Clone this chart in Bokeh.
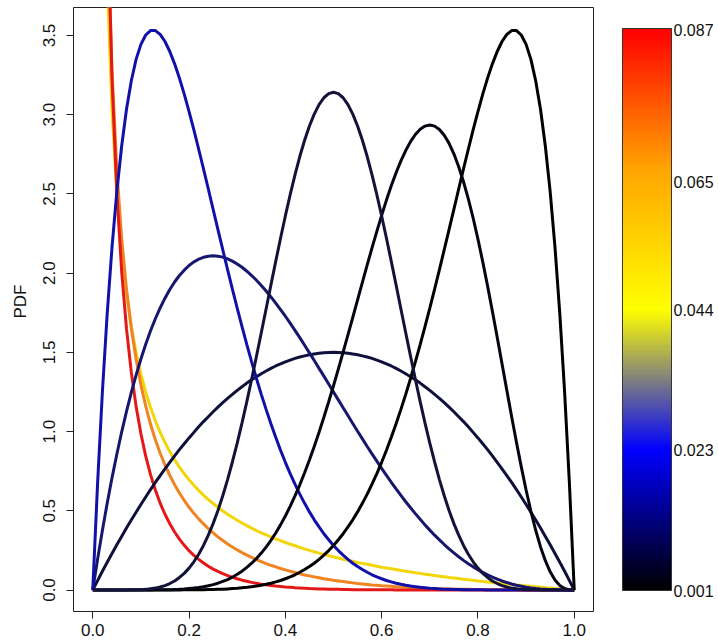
import math
import numpy as np
from bokeh.plotting import figure
from bokeh.layouts import row
from bokeh.models import Range1d, FixedTicker, LinearColorMapper
from bokeh.core.properties import value
from bokeh.embed import file_html
from bokeh.resources import INLINE

x_grid = [i / 100 for i in range(101)]          # 0.00 .. 1.00
x_open = x_grid[1:]                              # 0.01 .. 1.00 (density is infinite at 0)

pdf_a02_b2 = [9.459, 5.378, 3.848, 3.026, 2.505, 2.142, 1.873, 1.665, 1.499, 1.363, 1.249, 1.152, 1.068, 0.995, 0.931,
              0.873, 0.822, 0.776, 0.734, 0.696, 0.661, 0.629, 0.599, 0.571, 0.546, 0.522, 0.499, 0.478, 0.459, 0.440,
              0.423, 0.406, 0.390, 0.375, 0.361, 0.348, 0.335, 0.323, 0.311, 0.300, 0.289, 0.279, 0.269, 0.259, 0.250,
              0.241, 0.233, 0.225, 0.217, 0.209, 0.202, 0.194, 0.187, 0.181, 0.174, 0.168, 0.162, 0.156, 0.150, 0.144,
              0.139, 0.134, 0.129, 0.123, 0.119, 0.114, 0.109, 0.105, 0.100, 0.096, 0.092, 0.087, 0.083, 0.079, 0.076,
              0.072, 0.068, 0.064, 0.061, 0.057, 0.054, 0.051, 0.047, 0.044, 0.041, 0.038, 0.035, 0.032, 0.029, 0.026,
              0.023, 0.021, 0.018, 0.015, 0.013, 0.010, 0.007, 0.005, 0.002, 0.000]
pdf_a02_b4 = [10.878, 6.060, 4.249, 3.272, 2.652, 2.221, 1.901, 1.654, 1.457, 1.295, 1.161, 1.046, 0.948, 0.863, 0.789,
              0.723, 0.665, 0.612, 0.565, 0.522, 0.484, 0.449, 0.417, 0.387, 0.360, 0.335, 0.312, 0.291, 0.271, 0.253,
              0.236, 0.220, 0.206, 0.192, 0.179, 0.167, 0.156, 0.146, 0.136, 0.127, 0.118, 0.110, 0.102, 0.095, 0.089,
              0.083, 0.077, 0.071, 0.066, 0.061, 0.057, 0.053, 0.049, 0.045, 0.041, 0.038, 0.035, 0.032, 0.030, 0.027,
              0.025, 0.023, 0.021, 0.019, 0.017, 0.015, 0.014, 0.013, 0.011, 0.010, 0.009, 0.008, 0.007, 0.006, 0.006,
              0.005, 0.004, 0.004, 0.003, 0.003, 0.002, 0.002, 0.002, 0.001, 0.001, 0.001, 0.001, 0.001, 0.000, 0.000,
              0.000, 0.000, 0.000, 0.000, 0.000, 0.000, 0.000, 0.000, 0.000, 0.000]
pdf_a02_b8 = [12.128, 6.488, 4.366, 3.225, 2.507, 2.012, 1.651, 1.375, 1.159, 0.986, 0.845, 0.728, 0.631, 0.548, 0.478,
              0.418, 0.366, 0.321, 0.282, 0.248, 0.219, 0.193, 0.170, 0.150, 0.132, 0.117, 0.103, 0.091, 0.080, 0.071,
              0.062, 0.055, 0.048, 0.042, 0.037, 0.033, 0.029, 0.025, 0.022, 0.019, 0.017, 0.014, 0.013, 0.011, 0.009,
              0.008, 0.007, 0.006, 0.005, 0.004, 0.004, 0.003, 0.003, 0.002, 0.002, 0.002, 0.001, 0.001, 0.001, 0.001,
              0.001, 0.001, 0.000, 0.000, 0.000, 0.000, 0.000, 0.000, 0.000, 0.000, 0.000, 0.000, 0.000, 0.000, 0.000,
              0.000, 0.000, 0.000, 0.000, 0.000, 0.000, 0.000, 0.000, 0.000, 0.000, 0.000, 0.000, 0.000, 0.000, 0.000,
              0.000, 0.000, 0.000, 0.000, 0.000, 0.000, 0.000, 0.000, 0.000, 0.000]
pdf_a2_b2 = [0.000, 0.059, 0.118, 0.175, 0.230, 0.285, 0.338, 0.391, 0.442, 0.491, 0.540, 0.587, 0.634, 0.679, 0.722,
             0.765, 0.806, 0.847, 0.886, 0.923, 0.960, 0.995, 1.030, 1.063, 1.094, 1.125, 1.154, 1.183, 1.210, 1.235,
             1.260, 1.283, 1.306, 1.327, 1.346, 1.365, 1.382, 1.399, 1.414, 1.427, 1.440, 1.451, 1.462, 1.471, 1.478,
             1.485, 1.490, 1.495, 1.498, 1.499, 1.500, 1.499, 1.498, 1.495, 1.490, 1.485, 1.478, 1.471, 1.462, 1.451,
             1.440, 1.427, 1.414, 1.399, 1.382, 1.365, 1.346, 1.327, 1.306, 1.283, 1.260, 1.235, 1.210, 1.183, 1.154,
             1.125, 1.094, 1.063, 1.030, 0.995, 0.960, 0.923, 0.886, 0.847, 0.806, 0.765, 0.722, 0.679, 0.634, 0.587,
             0.540, 0.491, 0.442, 0.391, 0.338, 0.285, 0.230, 0.175, 0.118, 0.059, 0.000]
pdf_a2_b4 = [0.000, 0.194, 0.376, 0.548, 0.708, 0.857, 0.997, 1.126, 1.246, 1.356, 1.458, 1.551, 1.636, 1.712, 1.781,
             1.842, 1.897, 1.944, 1.985, 2.019, 2.048, 2.071, 2.088, 2.100, 2.107, 2.109, 2.107, 2.101, 2.090, 2.076,
             2.058, 2.037, 2.012, 1.985, 1.955, 1.922, 1.887, 1.850, 1.811, 1.770, 1.728, 1.684, 1.639, 1.593, 1.545,
             1.497, 1.449, 1.399, 1.350, 1.300, 1.250, 1.200, 1.150, 1.101, 1.051, 1.002, 0.954, 0.906, 0.859, 0.813,
             0.768, 0.724, 0.680, 0.638, 0.597, 0.557, 0.519, 0.482, 0.446, 0.411, 0.378, 0.346, 0.316, 0.287, 0.260,
             0.234, 0.210, 0.187, 0.166, 0.146, 0.128, 0.111, 0.096, 0.082, 0.069, 0.057, 0.047, 0.038, 0.030, 0.024,
             0.018, 0.013, 0.009, 0.006, 0.004, 0.002, 0.001, 0.001, 0.000, 0.000, 0.000]
pdf_a2_b8 = [0.000, 0.671, 1.250, 1.745, 2.164, 2.514, 2.801, 3.033, 3.213, 3.349, 3.444, 3.503, 3.531, 3.531, 3.507,
             3.462, 3.399, 3.321, 3.231, 3.130, 3.020, 2.904, 2.782, 2.658, 2.531, 2.403, 2.275, 2.148, 2.022, 1.899,
             1.779, 1.662, 1.549, 1.440, 1.335, 1.235, 1.140, 1.049, 0.964, 0.882, 0.806, 0.735, 0.668, 0.605, 0.547,
             0.493, 0.443, 0.398, 0.355, 0.317, 0.281, 0.249, 0.220, 0.193, 0.169, 0.148, 0.129, 0.112, 0.096, 0.083,
             0.071, 0.060, 0.051, 0.043, 0.036, 0.030, 0.025, 0.021, 0.017, 0.014, 0.011, 0.009, 0.007, 0.005, 0.004,
             0.003, 0.003, 0.002, 0.001, 0.001, 0.001, 0.001, 0.000, 0.000, 0.000, 0.000, 0.000, 0.000, 0.000, 0.000,
             0.000, 0.000, 0.000, 0.000, 0.000, 0.000, 0.000, 0.000, 0.000, 0.000, 0.000]
pdf_a8_b2 = [0.000, 0.000, 0.000, 0.000, 0.000, 0.000, 0.000, 0.000, 0.000, 0.000, 0.000, 0.000, 0.000, 0.000, 0.000,
             0.000, 0.000, 0.000, 0.000, 0.001, 0.001, 0.001, 0.001, 0.002, 0.003, 0.003, 0.004, 0.005, 0.007, 0.009,
             0.011, 0.014, 0.017, 0.021, 0.025, 0.030, 0.036, 0.043, 0.051, 0.060, 0.071, 0.083, 0.096, 0.112, 0.129,
             0.148, 0.169, 0.193, 0.220, 0.249, 0.281, 0.317, 0.355, 0.398, 0.443, 0.493, 0.547, 0.605, 0.668, 0.735,
             0.806, 0.882, 0.964, 1.049, 1.140, 1.235, 1.335, 1.440, 1.549, 1.662, 1.779, 1.899, 2.022, 2.148, 2.275,
             2.403, 2.531, 2.658, 2.782, 2.904, 3.020, 3.130, 3.231, 3.321, 3.399, 3.462, 3.507, 3.531, 3.531, 3.503,
             3.444, 3.349, 3.213, 3.033, 2.801, 2.514, 2.164, 1.745, 1.250, 0.671, 0.000]
pdf_a8_b4 = [0.000, 0.000, 0.000, 0.000, 0.000, 0.000, 0.000, 0.000, 0.000, 0.000, 0.000, 0.000, 0.000, 0.001, 0.001,
             0.001, 0.002, 0.003, 0.004, 0.006, 0.009, 0.012, 0.016, 0.021, 0.027, 0.034, 0.043, 0.054, 0.066, 0.081,
             0.099, 0.119, 0.143, 0.169, 0.199, 0.233, 0.271, 0.313, 0.360, 0.411, 0.467, 0.528, 0.594, 0.664, 0.740,
             0.821, 0.906, 0.996, 1.090, 1.188, 1.289, 1.394, 1.501, 1.610, 1.720, 1.831, 1.942, 2.052, 2.159, 2.264,
             2.365, 2.461, 2.551, 2.634, 2.709, 2.774, 2.830, 2.875, 2.908, 2.928, 2.935, 2.928, 2.907, 2.870, 2.819,
             2.753, 2.672, 2.577, 2.469, 2.348, 2.215, 2.071, 1.919, 1.760, 1.595, 1.428, 1.260, 1.094, 0.932, 0.777,
             0.631, 0.497, 0.377, 0.272, 0.185, 0.115, 0.063, 0.029, 0.009, 0.001, 0.000]
pdf_a8_b8 = [0.000, 0.000, 0.000, 0.000, 0.000, 0.000, 0.000, 0.000, 0.001, 0.001, 0.002, 0.004, 0.008, 0.012, 0.019,
             0.028, 0.041, 0.057, 0.079, 0.105, 0.138, 0.178, 0.226, 0.281, 0.346, 0.419, 0.502, 0.595, 0.697, 0.808,
             0.927, 1.055, 1.189, 1.330, 1.475, 1.624, 1.774, 1.925, 2.074, 2.220, 2.361, 2.495, 2.620, 2.736, 2.839,
             2.929, 3.004, 3.064, 3.107, 3.133, 3.142, 3.133, 3.107, 3.064, 3.004, 2.929, 2.839, 2.736, 2.620, 2.495,
             2.361, 2.220, 2.074, 1.925, 1.774, 1.624, 1.475, 1.330, 1.189, 1.055, 0.927, 0.808, 0.697, 0.595, 0.502,
             0.419, 0.346, 0.281, 0.226, 0.178, 0.138, 0.105, 0.079, 0.057, 0.041, 0.028, 0.019, 0.012, 0.008, 0.004,
             0.002, 0.001, 0.001, 0.000, 0.000, 0.000, 0.000, 0.000, 0.000, 0.000, 0.000]

# drawing order and colours of the nine curves
curve_x = [x_open, x_open, x_open, x_grid, x_grid, x_grid, x_grid, x_grid, x_grid]
curve_y = [pdf_a02_b2, pdf_a02_b4, pdf_a02_b8, pdf_a2_b2, pdf_a2_b4, pdf_a2_b8, pdf_a8_b2, pdf_a8_b4, pdf_a8_b8]
curve_colors = ["#F3D60A", "#EF8420", "#E51818", "#10103C", "#16166E", "#1111AA", "#000000", "#050512", "#12123A"]

x_ticks = [0.0, 0.2, 0.4, 0.6, 0.8, 1.0]
x_tick_labels = ["0.0", "0.2", "0.4", "0.6", "0.8", "1.0"]
y_ticks = [0.0, 0.5, 1.0, 1.5, 2.0, 2.5, 3.0, 3.5]
y_tick_labels = ["0.0", "0.5", "1.0", "1.5", "2.0", "2.5", "3.0", "3.5"]
y_label = "PDF"

cb_low, cb_high = 0.001, 0.087
cb_label_pos = [0.001, 0.0225, 0.044, 0.0635, 0.0867]
cb_labels = ["0.001", "0.023", "0.044", "0.065", "0.087"]
cb_stops = [(0.0, (0, 0, 0)), (0.25, (0, 0, 255)), (0.5, (255, 255, 0)), (0.75, (255, 165, 0)), (1.0, (255, 0, 0))]

for xx, yy in zip(curve_x, curve_y):
    assert len(xx) == len(yy), (len(xx), len(yy))

# ---------------- layout constants (pixels) ----------------
H = 644
TOP, BOTTOM = 7, 33          # frame spans y = 7 .. 611 in every panel
FONT = "Liberation Sans"
TXT = "#111111"
XR = (-0.04, 1.04)
YR = (-0.1357, 3.6767)
LEFT_W = 30                  # narrow strip that carries the y-axis title

y_range = Range1d(*YR)

# ---------------- y-axis title strip ----------------
pt = figure(width=LEFT_W, height=H, x_range=Range1d(0, LEFT_W), y_range=y_range,
            output_backend="svg", toolbar_location=None, x_axis_location=None, y_axis_location=None,
            min_border_left=0, min_border_right=0, min_border_top=TOP, min_border_bottom=BOTTOM)
pt.grid.visible = False
pt.outline_line_color = None
px_per_y = 604 / (YR[1] - YR[0])
pt.text(x=[20], y=[YR[1] - (301 - TOP) / px_per_y], text=[y_label], angle=math.pi / 2,
        text_align="center", text_baseline="middle",
        text_font=value(FONT), text_font_size="17px", text_color=TXT)

# ---------------- main plot ----------------
p = figure(width=606 - LEFT_W, height=H, x_range=Range1d(*XR), y_range=y_range,
           output_backend="svg", toolbar_location=None,
           min_border_left=73 - LEFT_W, min_border_right=13, min_border_top=TOP, min_border_bottom=BOTTOM)
p.grid.visible = False
p.outline_line_color = "#222222"
p.outline_line_width = 1
for ax in (p.xaxis[0], p.yaxis[0]):
    ax.axis_line_color = None
    ax.major_tick_out = 7
    ax.major_tick_in = 0
    ax.minor_tick_line_color = None
    ax.major_tick_line_color = "#222222"
    ax.major_label_text_font = FONT
    ax.major_label_text_font_size = "17px"
    ax.major_label_text_color = TXT
p.xaxis.ticker = FixedTicker(ticks=x_ticks)
p.xaxis.major_label_overrides = dict(zip(x_ticks, x_tick_labels))
p.xaxis.major_label_standoff = 5
p.yaxis.ticker = FixedTicker(ticks=y_ticks)
p.yaxis.major_label_overrides = dict(zip(y_ticks, y_tick_labels))
p.yaxis.major_label_orientation = "vertical"
p.yaxis.major_label_standoff = 11

for xx, yy, c in zip(curve_x, curve_y, curve_colors):
    p.line(xx, yy, line_color=c, line_width=3)

# ---------------- colour bar (bar spans y = 28 .. 590, x = 622 .. 671) ----------------
span = cb_high - cb_low
px_per_unit = 562 / span
y0 = cb_low - (611 - 590) / px_per_unit
y1 = y0 + 604 / px_per_unit
pb = figure(width=112, height=H, x_range=Range1d(-0.02, 1.02), y_range=Range1d(y0, y1),
            output_backend="svg", toolbar_location=None, x_axis_location=None, y_axis_location="right",
            min_border_left=15, min_border_right=46, min_border_top=TOP, min_border_bottom=BOTTOM)
pb.grid.visible = False
pb.outline_line_color = None

pal = []
for i in range(256):
    t = i / 255
    for (t0, c0), (t1, c1) in zip(cb_stops[:-1], cb_stops[1:]):
        if t0 <= t <= t1:
            f = (t - t0) / (t1 - t0)
            pal.append("#%02x%02x%02x" % tuple(round(c0[k] + f * (c1[k] - c0[k])) for k in range(3)))
            break
grad = np.linspace(cb_low, cb_high, 256).reshape(256, 1)
pb.image(image=[grad], x=0, y=cb_low, dw=1, dh=span,
         color_mapper=LinearColorMapper(palette=pal, low=cb_low, high=cb_high))
pb.quad(left=[0], right=[1], bottom=[cb_low], top=[cb_high], fill_color=None, line_color="#333333", line_width=1)
ax = pb.yaxis[0]
ax.ticker = FixedTicker(ticks=cb_label_pos)
ax.major_label_overrides = dict(zip(cb_label_pos, cb_labels))
ax.axis_line_color = None
ax.major_tick_out = 0
ax.major_tick_in = 0
ax.minor_tick_line_color = None
ax.major_label_standoff = 1
ax.major_label_text_font = FONT
ax.major_label_text_font_size = "16px"
ax.major_label_text_color = TXT

layout = row(pt, p, pb)
open("out.html", "w").write(file_html(layout, INLINE))
